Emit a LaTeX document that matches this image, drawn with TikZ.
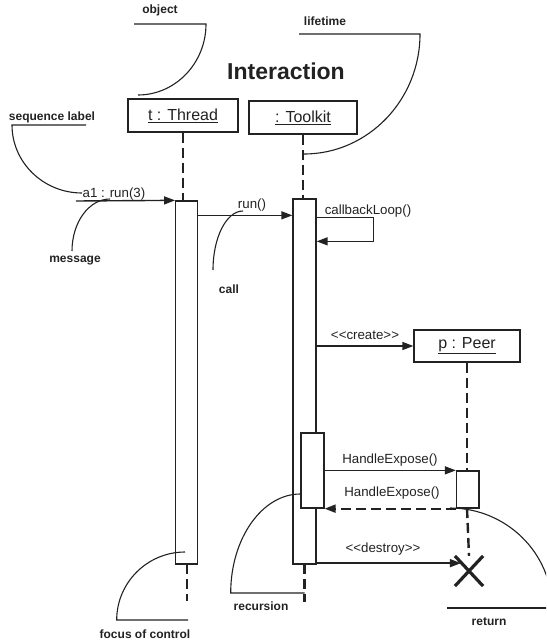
\documentclass[tikz,border=0pt]{standalone}
\usepackage{fontspec}
\setmainfont{Liberation Sans}
\usetikzlibrary{arrows.meta,shapes.misc}
\definecolor{ink}{HTML}{222222}
\begin{document}
\begin{tikzpicture}[x=1pt,y=-1pt,ink,
  box/.style={draw=ink, line width=1.3pt, fill=white, inner sep=0pt},
  objname/.style={box, font=\fontsize{16}{19}\selectfont},
  lifeline/.style={line width=2.4pt, dash pattern=on 10pt off 5pt},
  msg/.style={line width=1.4pt, -{Triangle[length=11pt,width=8pt]}},
  reply/.style={msg, line width=2pt, dash pattern=on 10pt off 5pt},
  note/.style={line width=1.1pt},
  lbl/.style={inner sep=0pt, font=\fontsize{13.3}{15}\selectfont},
  notelbl/.style={inner sep=0pt, font=\fontsize{12}{14}\selectfont\bfseries}]
\useasboundingbox (0,0) rectangle (546,642);
\clip (0,0) rectangle (546,642);

% heading
\node[inner sep=0pt, font=\fontsize{23}{27}\selectfont\bfseries] (title) at (286,71) {Interaction};

% objects
\node[objname, minimum width=110pt, minimum height=33pt] (tbox) at (183,115.5) {\underline{t : Thread}};
\node[objname, minimum width=108pt, minimum height=33pt] (kbox) at (303,117.5) {\underline{: Toolkit}};
\node[objname, minimum width=106pt, minimum height=32pt] (pbox) at (467,346) {\underline{p : Peer}};

% destruction mark
\node[cross out, draw=ink, line width=3.2pt, minimum width=25pt, minimum height=27pt, inner sep=0pt] (X) at (469,571) {};

% lifelines
\coordinate (tend) at (186.7,601);
\coordinate (kend) at (304.5,602);
\draw[lifeline] (tbox.south) -- (tbox.south |- 0,201);
\draw[lifeline] (kbox.south) -- (kbox.south |- 0,199);
\draw[lifeline] (pbox.south) -- (pbox.south |- 0,471);
\draw[lifeline] (pbox.south |- 0,508) -- (X.north);
\draw[lifeline] (186.7,564) -- (tend);
\draw[lifeline] (304.5,564) -- (kend);

% activations
\node[box, minimum width=22pt, minimum height=363pt] (tbar) at (186.7,382.5) {};
\node[box, minimum width=23pt, minimum height=365pt] (kbar) at (304.5,381.5) {};
\node[box, minimum width=23pt, minimum height=75pt] (kin) at (312.5,470.5) {};
\node[box, minimum width=22.5pt, minimum height=37pt] (pact) at (467.75,489.5) {};

% messages
\coordinate (a1from) at (76,201);
\draw[msg] (a1from) -- (tbar.north west);
\node[lbl] (la1) at (114,194) {a1 : run(3)};

\coordinate (runfrom) at ([yshift=-15pt]tbar.north east);
\draw[msg] (runfrom) -- (runfrom -| kbar.west);
\node[lbl] (lrun) at (252,205) {run()};

\coordinate (cbfrom) at ([yshift=-19pt]kbar.north east);
\draw[msg] (cbfrom) -- ++(57,0) -- ++(0,24) -- ++(-57,0);
\node[lbl] (lcb) at (368,211) {callbackLoop()};

\draw[msg] (pbox.west -| kbar.east) -- (pbox.west);
\node[lbl] (lcreate) at (365,335) {{<}{<}create{>}{>}};

\draw[msg] (pact.north west -| kin.east) -- (pact.north west);
\node[lbl] (lhe1) at (390,460) {HandleExpose()};

\draw[reply] (pact.south west) -- (pact.south west -| kin.east);
\node[lbl] (lhe2) at (392,493) {HandleExpose()};

\coordinate (dfrom) at ([yshift=1.5pt]kbar.south east);
\draw[msg] (dfrom) -- ([xshift=6pt]dfrom -| X.west);
\node[lbl] (ldestroy) at (383,549) {{<}{<}destroy{>}{>}};

% annotations
\node[notelbl] (cobject) at (160,10.5) {object};
\draw[note] (134,24) -- (206,24) .. controls (206,63) and (175.5,95) .. (138,95);

\node[notelbl] (clife) at (325,21) {lifetime};
\draw[note] (299,34) -- (420,34) .. controls (420,100) and (368,154) .. (304,154);

\node[notelbl] (cseq) at (52,117) {sequence label};
\draw[note] (86,125) -- (12,125) .. controls (12,162.5) and (43.4,193) .. (82,193);

\node[notelbl] (cmsg) at (75,261) {message};
\draw[note] (72,251) .. controls (72,222.3) and (89,199) .. (110,199);

\node[notelbl] (ccall) at (229,289) {call};
\draw[note] (243,211) .. controls (226.4,211) and (213,237.4) .. (213,270);

\node[notelbl] (crec) at (261,606) {recursion};
\draw[note] (kend |- 0,593) -- (230.7,593) .. controls (230.7,538.3) and (262.2,494) .. (kin.west |- 0,494);

\node[notelbl] (cfoc) at (145,634) {focus of control};
\draw[note] (188,620) -- (116.7,620) .. controls (116.7,582.5) and (147.5,552) .. (185,552);

\node[notelbl] (cret) at (489,622) {return};
\draw[note] (447,608) -- (560,608);
\draw[note] (450,508) .. controls (506.3,508) and (552,553) .. (552,608);
\end{tikzpicture}
\end{document}
